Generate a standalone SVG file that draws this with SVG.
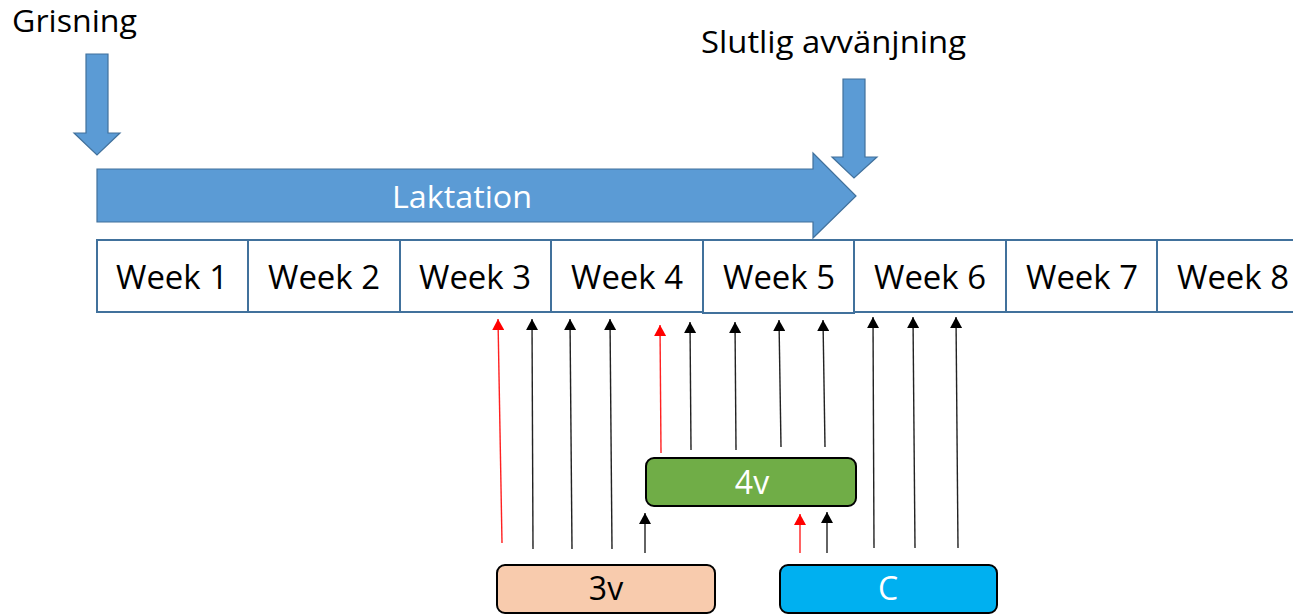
<svg xmlns="http://www.w3.org/2000/svg" width="1293" height="614" viewBox="0 0 1293 614">
<style>
text{font-family:"Open Sans","Liberation Sans",sans-serif;}
.blue{fill:#5B9BD5;stroke:#41719C;stroke-width:1.2;}
.week{fill:#fff;stroke:#41719C;stroke-width:2;}
.wt{font-size:33px;fill:#000;text-anchor:middle;}
.lbl{font-size:31px;fill:#000;}
.blk{stroke:#222;stroke-width:1.4;fill:none;marker-end:url(#hb);}
.red{stroke:#ff2020;stroke-width:1.4;fill:none;marker-end:url(#hr);}
.box{stroke:#000;stroke-width:2;}
.bt{font-size:32px;text-anchor:middle;}
</style>
<defs>
<marker id="hb" markerUnits="userSpaceOnUse" markerWidth="12" markerHeight="12" refX="11" refY="6" orient="auto" viewBox="0 0 12 12"><path d="M0,0 L11,6 L0,12 z" fill="#000"/></marker>
<marker id="hr" markerUnits="userSpaceOnUse" markerWidth="12" markerHeight="12" refX="11" refY="6" orient="auto" viewBox="0 0 12 12"><path d="M0,0 L11,6 L0,12 z" fill="#ff0000"/></marker>
</defs>
<rect width="1293" height="614" fill="#fff"/>
<g id="grisning">
<text class="lbl" x="12" y="32" textLength="125" lengthAdjust="spacingAndGlyphs">Grisning</text>
<path class="blue" d="M86,54 H108 V133 H120 L97,155 L74,133 H86 Z"/>
</g>
<g id="slutlig">
<text class="lbl" x="701" y="53" textLength="265" lengthAdjust="spacingAndGlyphs">Slutlig avvänjning</text>
<path class="blue" d="M843,79 H865 V157 H877 L854,178 L832,157 H843 Z"/>
</g>
<g id="laktation">
<path class="blue" d="M97,169 H813 V153 L856,196 L813,238 V222 H97 Z"/>
<text x="462" y="208" font-size="31" fill="#fff" text-anchor="middle" textLength="140" lengthAdjust="spacingAndGlyphs">Laktation</text>
</g>
<g id="weeks">
<g id="week1"><rect class="week" x="97" y="240" width="151" height="72"/><text class="wt" x="172" y="289" textLength="112" lengthAdjust="spacingAndGlyphs">Week 1</text></g>
<g id="week2"><rect class="week" x="248" y="240" width="152" height="72"/><text class="wt" x="324" y="289" textLength="112" lengthAdjust="spacingAndGlyphs">Week 2</text></g>
<g id="week3"><rect class="week" x="400" y="240" width="151" height="72"/><text class="wt" x="475" y="289" textLength="112" lengthAdjust="spacingAndGlyphs">Week 3</text></g>
<g id="week4"><rect class="week" x="551" y="240" width="152" height="72"/><text class="wt" x="627" y="289" textLength="112" lengthAdjust="spacingAndGlyphs">Week 4</text></g>
<g id="week6"><rect class="week" x="854" y="240" width="152" height="72"/><text class="wt" x="930" y="289" textLength="112" lengthAdjust="spacingAndGlyphs">Week 6</text></g>
<g id="week7"><rect class="week" x="1006" y="240" width="151" height="72"/><text class="wt" x="1082" y="289" textLength="112" lengthAdjust="spacingAndGlyphs">Week 7</text></g>
<g id="week8"><rect class="week" x="1157" y="240" width="152" height="72"/><text class="wt" x="1233" y="289" textLength="112" lengthAdjust="spacingAndGlyphs">Week 8</text></g>
<g id="week5"><rect class="week" x="703" y="240" width="151" height="73"/><text class="wt" x="779" y="289" textLength="112" lengthAdjust="spacingAndGlyphs">Week 5</text></g>
</g>
<g id="connectors">
<line class="red" x1="502" y1="543" x2="498" y2="319"/>
<line class="blk" x1="533" y1="549" x2="532" y2="319"/>
<line class="blk" x1="572" y1="549" x2="570" y2="319"/>
<line class="blk" x1="612" y1="549" x2="610" y2="319"/>
<line class="blk" x1="645" y1="553" x2="645" y2="513"/>
<line class="red" x1="661" y1="453" x2="660" y2="325"/>
<line class="blk" x1="691" y1="450" x2="690" y2="322"/>
<line class="blk" x1="736" y1="450" x2="735" y2="322"/>
<line class="blk" x1="781" y1="447" x2="779" y2="320"/>
<line class="blk" x1="825" y1="447" x2="823" y2="320"/>
<line class="red" x1="800" y1="553" x2="800" y2="514"/>
<line class="blk" x1="827" y1="553" x2="827" y2="512"/>
<line class="blk" x1="874" y1="548" x2="873" y2="317"/>
<line class="blk" x1="915" y1="548" x2="913" y2="317"/>
<line class="blk" x1="958" y1="548" x2="956" y2="317"/>
</g>
<g id="box4v">
<rect class="box" x="646" y="458" width="210" height="48" rx="8" fill="#70AD47"/>
<text class="bt" x="752" y="494" fill="#fff">4v</text>
</g>
<g id="box3v">
<rect class="box" x="497" y="565" width="218" height="48" rx="8" fill="#F8CBAD"/>
<text class="bt" x="606" y="600" fill="#000">3v</text>
</g>
<g id="boxC">
<rect class="box" x="780" y="565" width="217" height="48" rx="8" fill="#00B0F0"/>
<text class="bt" x="888" y="600" fill="#fff">C</text>
</g>
</svg>
